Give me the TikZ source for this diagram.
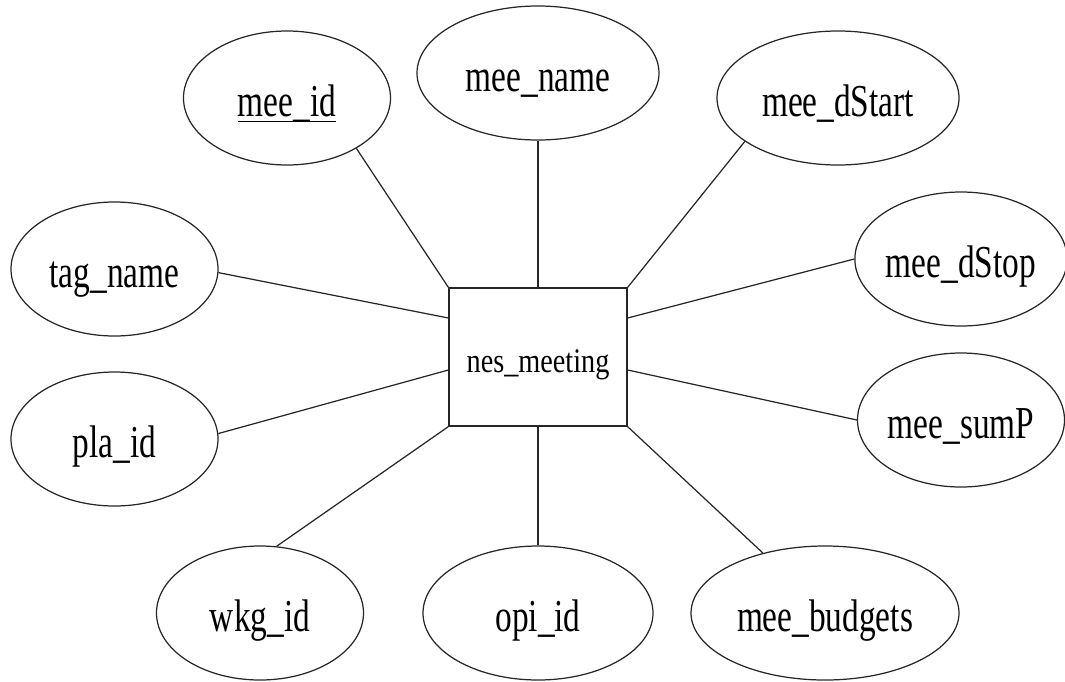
\documentclass[tikz,border=0pt]{standalone}
\usepackage{fontspec}
\setmainfont[FakeStretch=0.73]{Liberation Serif}
\newfontfamily\boxfont[FakeStretch=0.82]{Liberation Serif}
\usetikzlibrary{shapes.geometric}
\tikzset{
    attr/.style={draw=black!85, ellipse, inner sep=0pt, text height=0.37cm, text depth=0pt, minimum width=2.07cm, minimum height=1.34cm, font=\fontsize{13}{15}\selectfont},
    entity/.style={draw=black!85, rectangle, text height=0.3cm, text depth=0pt, minimum width=1.78cm, minimum height=1.38cm, font=\boxfont\fontsize{9.8}{11}\selectfont}
}
\begin{document}
\begin{tikzpicture}[line width=0.35pt]
            \useasboundingbox (0,0) rectangle (10.65,-6.81);
            \node[entity] (meeting) at (5.38,-3.57) {nes\_meeting};
            \node[attr] (meeid) at (2.87,-0.98) {\underline{\smash{mee\_id}}};
            \node[attr, minimum width=2.42cm] (meename) at (5.38,-0.73) {mee\_name};
            \node[attr, minimum width=2.42cm] (meedstart) at (8.38,-0.98) {mee\_dStart};
            \node[attr] (tagname) at (1.145,-2.69) {tag\_name};
            \node[attr] (plaid) at (1.145,-4.39) {pla\_id};
            \node[attr, minimum width=2.04cm] (meedstop) at (9.61,-2.59) {mee\_dStop};
            \node[attr, minimum width=2.04cm] (meesump) at (9.61,-4.20) {mee\_sumP};
            \node[attr] (wkgid) at (2.60,-6.13) {wkg\_id};
            \node[attr, minimum width=2.30cm] (opiid) at (5.38,-6.13) {opi\_id};
            \node[attr, minimum width=2.68cm] (meebudgets) at (8.25,-6.13) {mee\_budgets};
            \draw[black!85] (meeting.north west) -- (meeid.-36);
            \draw[black!85] (meeting.north) -- (meename.south);
            \draw[black!85] (meeting.north east) -- (meedstart.-155);
            \draw[black!85] ([yshift=0.39cm]meeting.west) -- (tagname.-2);
            \draw[black!85] ([yshift=-0.13cm]meeting.west) -- (plaid.3);
            \draw[black!85] ([yshift=0.39cm]meeting.east) -- (meedstop.west);
            \draw[black!85] ([yshift=-0.13cm]meeting.east) -- (meesump.west);
            \draw[black!85] (meeting.south west) -- (wkgid.76);
            \draw[black!85] (meeting.south) -- (opiid.north);
            \draw[black!85] (meeting.south east) -- (meebudgets.136);
        \end{tikzpicture}
\end{document}
